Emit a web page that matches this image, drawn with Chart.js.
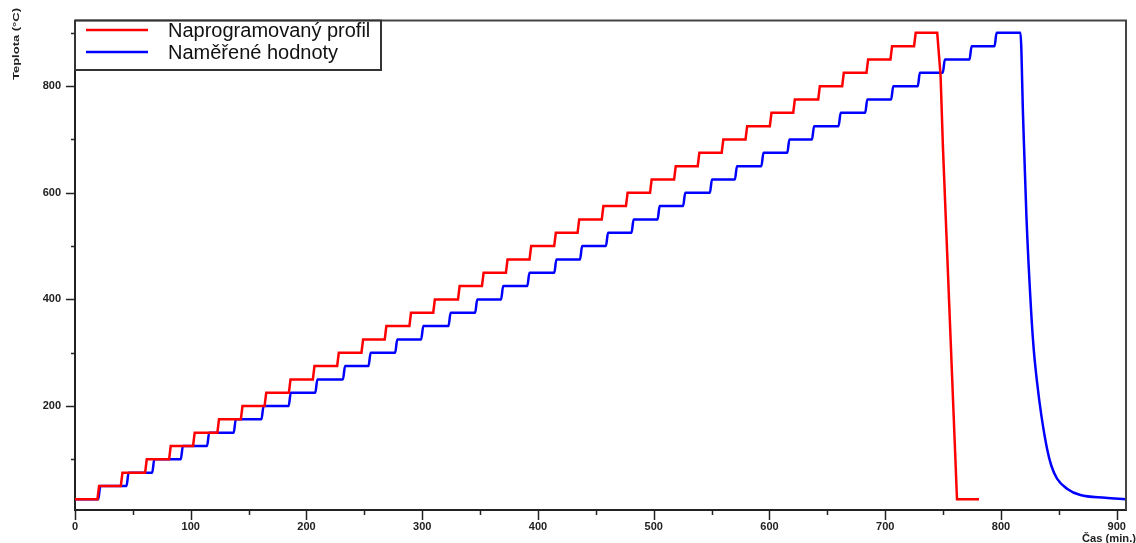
<!DOCTYPE html>
<html>
<head>
<meta charset="utf-8">
<script src="https://cdn.jsdelivr.net/npm/chart.js@4.4.0/dist/chart.umd.min.js"></script>
<style>
  html, body { margin: 0; padding: 0; background: #fff; overflow: hidden; }
  #wrap { width: 1136px; height: 543px; }
</style>
</head>
<body>
<div id="wrap"><canvas id="c" width="1136" height="543"></canvas></div>
<script>
// Temperature levels of the staircase (°C)
const stepLevels = [25, 50, 75, 100, 125, 150, 175, 200, 225, 250, 275, 300, 325, 350, 375, 400,
  425, 450, 475, 500, 525, 550, 575, 600, 625, 650, 675, 700, 725, 750, 775, 800, 825, 850, 875, 900];

// Time (min.) of each step-up, programmed profile
const redRiseTimes = [20.1, 40.3, 61.3, 82.0, 102.7, 123.7, 144.0, 164.5, 185.5, 206.2, 227.2, 248.2,
  268.3, 289.6, 310.2, 331.6, 352.3, 373.0, 393.4, 414.7, 434.9, 455.8, 476.7, 497.5, 518.3, 538.7,
  559.4, 580.0, 601.0, 621.2, 642.8, 663.5, 684.5, 705.2, 725.6];

// Time (min.) of each step-up, measured values
const blueRiseTimes = [21.0, 45.4, 67.6, 92.3, 115.0, 138.0, 162.0, 185.5, 208.5, 232.4, 254.5, 277.5,
  300.0, 323.6, 346.6, 369.0, 391.7, 415.0, 437.2, 459.6, 481.7, 504.2, 526.3, 549.4, 571.0, 593.9,
  616.3, 637.6, 660.6, 683.6, 706.0, 729.0, 750.6, 773.7, 795.3];

// Cooling segments
const redCoolTimes = [744.9, 747.8, 749.8, 762.0, 781.0];
const redCoolTemps = [900, 820, 688, 25, 25];
const blueCoolTimes = [816.8, 819.1, 822.0, 826.3, 828.3, 831.2, 834.9, 839.8, 843.5, 848.4, 857.0, 868.6, 890.1, 907.7];
const blueCoolTemps = [900, 741, 554, 368, 306, 244, 182, 120, 88, 64, 45, 33, 28, 25];

// Axis tick labels
const xTickLabels = [0, 100, 200, 300, 400, 500, 600, 700, 800, 900];
const yTickLabels = [200, 400, 600, 800];
const xMinorTicks = [50, 150, 250, 350, 450, 550, 650, 750, 850];
const yMinorTicks = [100, 300, 500, 700, 900];

const seriesNames = ['Naprogramovaný profil', 'Naměřené hodnoty'];
const FONT = '"Liberation Sans", Arial, Helvetica, sans-serif';

function staircase(riseTimes, ramp, coolTimes, coolTemps) {
  const pts = [{ x: 0, y: stepLevels[0] }];
  riseTimes.forEach((t, i) => {
    pts.push({ x: t - ramp / 2, y: stepLevels[i] });
    pts.push({ x: t + ramp / 2, y: stepLevels[i + 1] });
  });
  coolTimes.forEach((t, i) => pts.push({ x: t, y: coolTemps[i] }));
  return pts;
}

function drawStretched(ctx, text, width) {
  const w = ctx.measureText(text).width;
  ctx.scale(width / w, 1);
  ctx.fillText(text, 0, 0);
}

const decorations = {
  id: 'decorations',
  afterDraw(chart) {
    const { ctx, chartArea: a, scales: { x, y } } = chart;
    ctx.save();

    // frame on top and right
    ctx.strokeStyle = '#444';
    ctx.lineWidth = 2;
    ctx.beginPath();
    ctx.moveTo(a.left, a.top);
    ctx.lineTo(a.right, a.top);
    ctx.lineTo(a.right, a.bottom);
    ctx.stroke();

    // tick marks, long for labelled values and short in between
    ctx.strokeStyle = '#222';
    ctx.lineWidth = 1.5;
    ctx.beginPath();
    xTickLabels.forEach(v => { const px = Math.round(x.getPixelForValue(v)) + 0.5; ctx.moveTo(px, a.bottom); ctx.lineTo(px, a.bottom + 10); });
    xMinorTicks.forEach(v => { const px = Math.round(x.getPixelForValue(v)) + 0.5; ctx.moveTo(px, a.bottom); ctx.lineTo(px, a.bottom + 5); });
    yTickLabels.forEach(v => { const py = Math.round(y.getPixelForValue(v)) + 0.5; ctx.moveTo(a.left, py); ctx.lineTo(a.left - 9, py); });
    yMinorTicks.forEach(v => { const py = Math.round(y.getPixelForValue(v)) + 0.5; ctx.moveTo(a.left, py); ctx.lineTo(a.left - 4, py); });
    ctx.stroke();

    // legend box
    const lx0 = a.left, ly0 = a.top, lx1 = 381, ly1 = 70;
    ctx.fillStyle = '#fff';
    ctx.fillRect(lx0, ly0, lx1 - lx0, ly1 - ly0);
    ctx.strokeStyle = '#333';
    ctx.lineWidth = 2;
    ctx.strokeRect(lx0, ly0, lx1 - lx0, ly1 - ly0);
    chart.data.datasets.forEach((ds, i) => {
      const ly = 30 + i * 22;
      ctx.strokeStyle = ds.borderColor;
      ctx.lineWidth = 2.5;
      ctx.beginPath();
      ctx.moveTo(86, ly);
      ctx.lineTo(148, ly);
      ctx.stroke();
      ctx.fillStyle = '#111';
      ctx.font = '20px ' + FONT;
      ctx.textAlign = 'left';
      ctx.textBaseline = 'alphabetic';
      ctx.fillText(ds.label, 168, ly + 7);
    });

    // axis titles
    ctx.fillStyle = '#222';
    ctx.font = 'bold 9px ' + FONT;
    ctx.save();
    ctx.translate(17, 44);
    ctx.rotate(-Math.PI / 2);
    ctx.textAlign = 'center';
    ctx.textBaseline = 'middle';
    drawStretched(ctx, 'Teplota (°C)', 72);
    ctx.restore();

    ctx.save();
    ctx.font = 'bold 10px ' + FONT;
    ctx.translate(1136, 542);
    ctx.textAlign = 'right';
    ctx.textBaseline = 'alphabetic';
    drawStretched(ctx, 'Čas (min.)', 54);
    ctx.restore();

    ctx.restore();
  }
};

const tickFont = { family: FONT, size: 11, weight: 'bold' };

new Chart(document.getElementById('c'), {
  type: 'line',
  data: {
    datasets: [
      {
        label: seriesNames[0],
        data: staircase(redRiseTimes, 1.4, redCoolTimes, redCoolTemps),
        borderColor: '#ff0000',
        borderWidth: 2.5,
        pointRadius: 0,
        tension: 0
      },
      {
        label: seriesNames[1],
        data: staircase(blueRiseTimes, 1.8, blueCoolTimes, blueCoolTemps),
        borderColor: '#0000ff',
        borderWidth: 2.5,
        pointRadius: 0,
        cubicInterpolationMode: 'monotone'
      }
    ]
  },
  options: {
    responsive: false,
    animation: false,
    devicePixelRatio: 1,
    parsing: false,
    layout: { padding: { top: 17, right: 9, left: 0, bottom: 0 } },
    plugins: { legend: { display: false }, tooltip: { enabled: false } },
    scales: {
      x: {
        type: 'linear',
        min: 0,
        max: 908,
        afterBuildTicks: s => { s.ticks = xTickLabels.map(v => ({ value: v })); },
        afterFit: s => { s.height = 33; },
        grid: { display: false, drawTicks: false },
        border: { display: true, color: '#222', width: 2 },
        ticks: { padding: 10, color: '#222', font: tickFont, maxRotation: 0, autoSkip: false }
      },
      y: {
        type: 'linear',
        min: 5,
        max: 923,
        afterBuildTicks: s => { s.ticks = yTickLabels.map(v => ({ value: v })); },
        afterFit: s => { s.width = 75; },
        grid: { display: false, drawTicks: false },
        border: { display: true, color: '#222', width: 2 },
        ticks: { padding: 14, color: '#222', font: tickFont, autoSkip: false }
      }
    }
  },
  plugins: [decorations]
});
</script>
</body>
</html>
